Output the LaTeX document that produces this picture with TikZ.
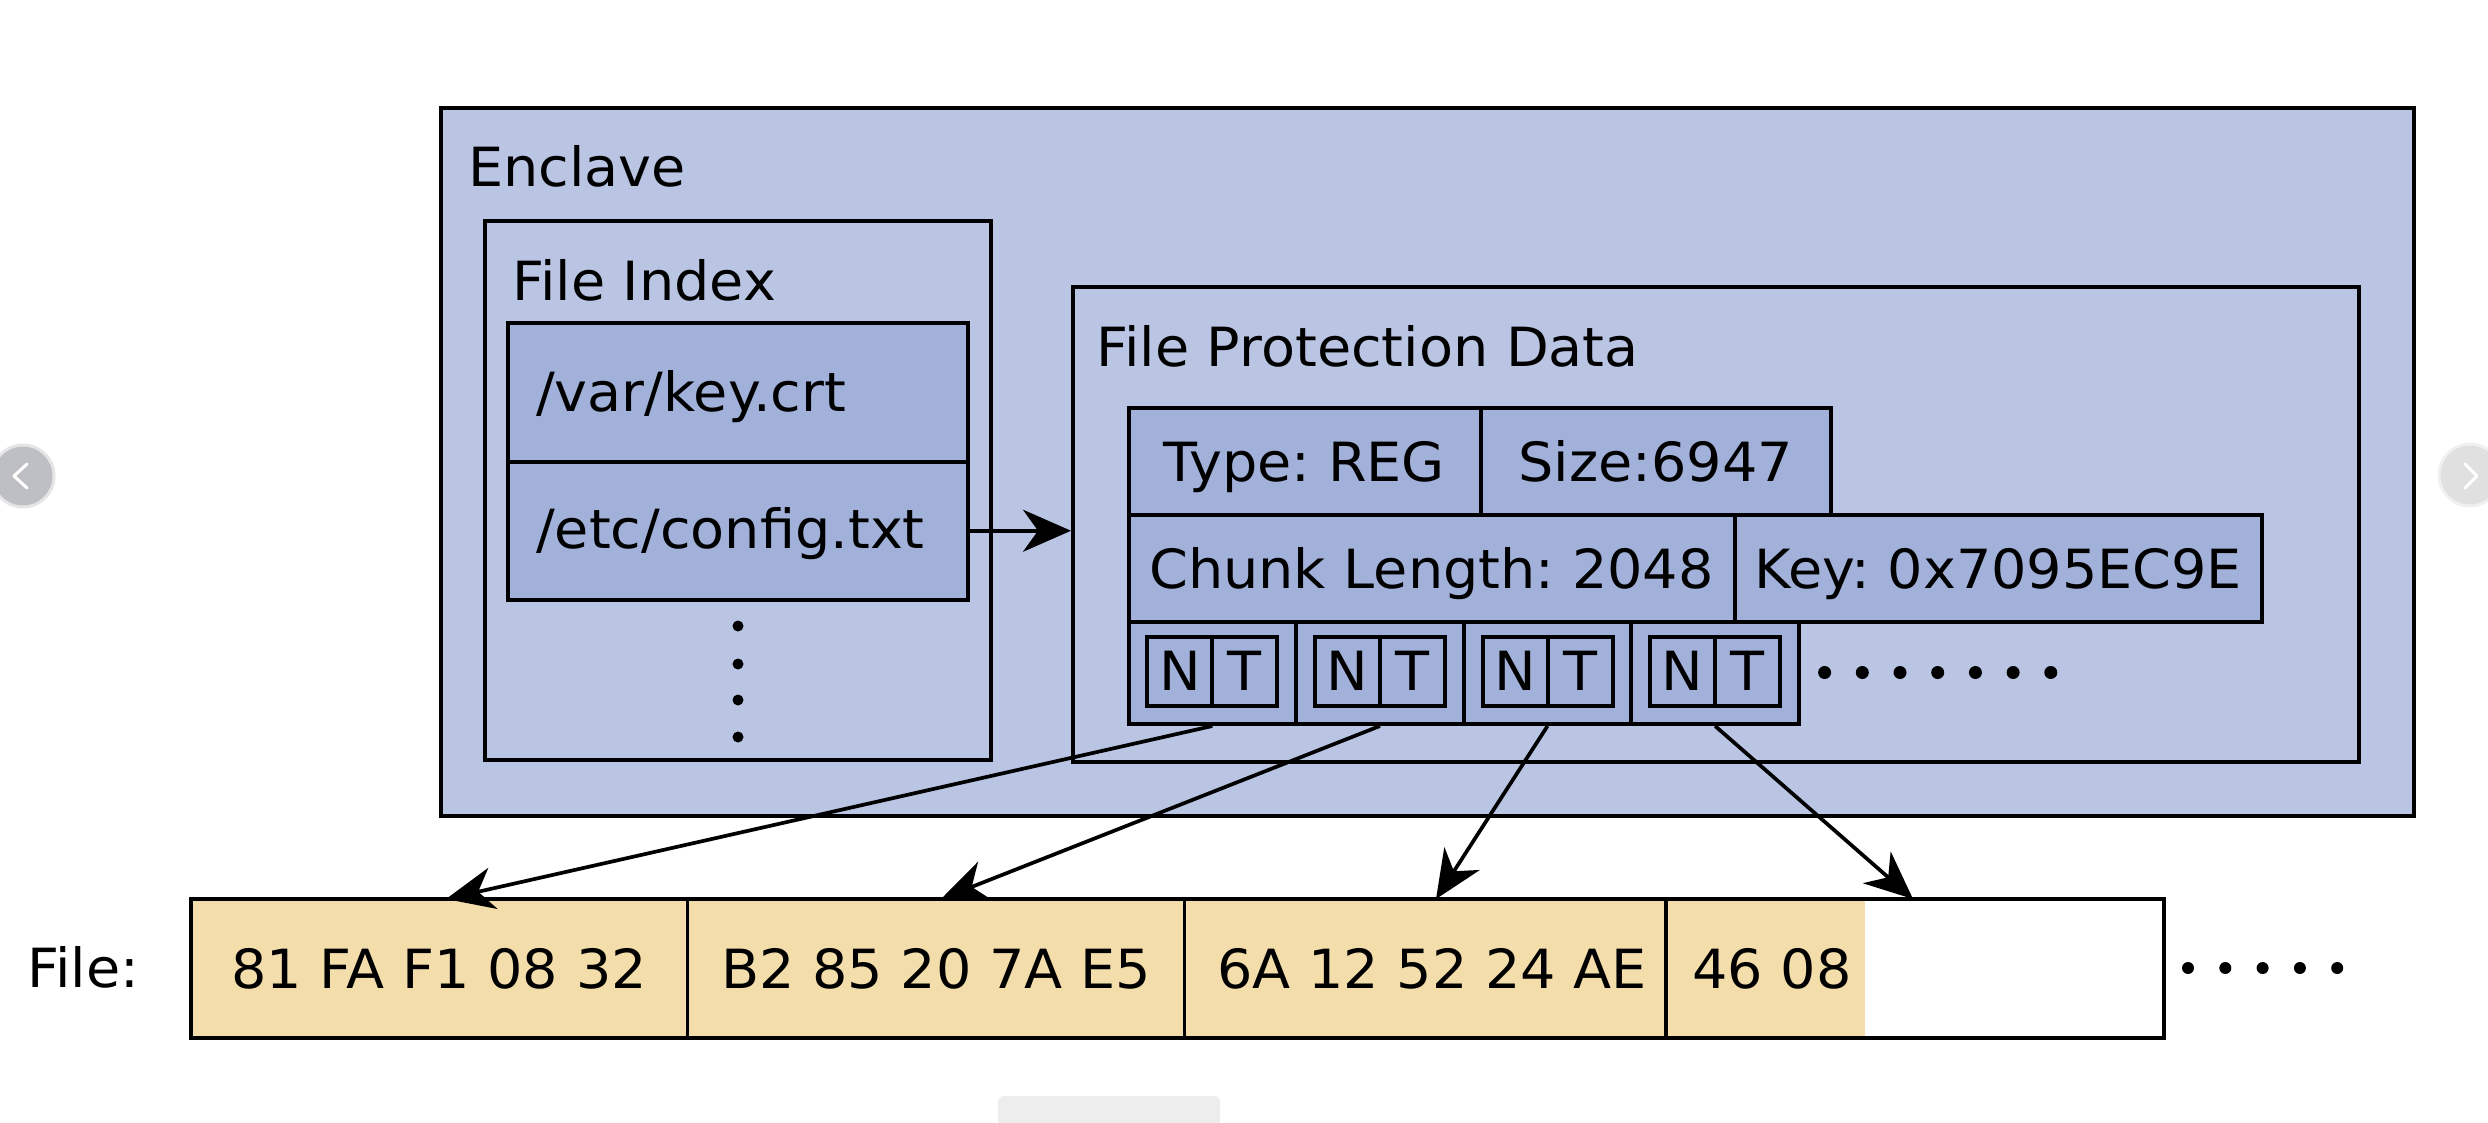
\documentclass[tikz,border=0pt]{standalone}
\usepackage{fontspec}
\setmainfont[FakeStretch=1.03]{DejaVu Sans}
\frenchspacing
\usetikzlibrary{arrows.meta,calc}
\definecolor{enc}{RGB}{185,197,227}
\definecolor{cellc}{RGB}{161,177,217}
\definecolor{beige}{RGB}{243,222,171}
\definecolor{btnl}{RGB}{190,191,196}
\begin{document}
\begin{tikzpicture}[x=1pt,y=-1pt,
  txt/.style={font=\fontsize{54}{64}\selectfont, inner sep=0pt},
  box/.style={draw, line width=4pt, inner sep=0pt},
  cell/.style={draw, fill=cellc, line width=4pt, inner sep=0pt,
    font=\fontsize{54}{64}\selectfont, text height=39pt, text depth=0pt},
  chunk/.style={draw, line width=3.5pt, inner sep=0pt, minimum height=139pt,
    font=\fontsize{54}{64}\selectfont, text height=39pt, text depth=0pt},
  arr/.style={line width=3.7pt, -{Stealth[length=48pt,width=42pt,inset=15pt]}}]
\useasboundingbox (0,0) rectangle (2488,1123);

% screenshot artefacts (carousel buttons, thumbnail)
\node[circle, draw=black!10, line width=3pt, fill=btnl, minimum size=62pt, inner sep=0pt] (btnleft) at (23,476) {};
\draw[white, line width=3pt, line cap=round, line join=round] (27,464) -- (14,476) -- (27,488);
\node[circle, draw=black!6, line width=3pt, fill=black!12, minimum size=62pt, inner sep=0pt] (btnright) at (2470,475) {};
\draw[white, line width=3pt, line cap=round, line join=round] (2465,464) -- (2477,476) -- (2465,488);
\fill[black!7, rounded corners=6pt] (998,1096) rectangle (1220,1135);

% Enclave
\node[box, fill=enc, minimum width=1973pt, minimum height=708pt] (enclave) at (1427.5,462) {};
\node[txt, anchor=base west] (enclavelbl) at (468,187) {Enclave};

% File Index
\node[box, minimum width=506pt, minimum height=539pt] (findex) at (738,490.5) {};
\node[txt, anchor=base west] (findexlbl) at (512,300) {File Index};
\node[cell, minimum width=460.5pt, minimum height=138.5pt] (row1) at (737.75,392.25) {};
\node[cell, minimum width=460.5pt, minimum height=138.5pt] (row2) at (737.75,530.75) {};
\node[txt, anchor=base west] (row1lbl) at (536,411) {/var/key.crt};
\node[txt, anchor=base west] (row2lbl) at (536,548) {/etc/config.txt};
\foreach \y in {626,664,700,737} \fill (738,\y) circle (5.5pt);

% File Protection Data
\node[box, minimum width=1286pt, minimum height=475pt] (fpd) at (1716,524.5) {};
\node[txt, anchor=base west] (fpdlbl) at (1096,366) {File Protection Data};

\node[cell, minimum width=352pt, minimum height=107pt] (type) at (1304.5,461.5) {Type: REG};
\node[cell, minimum width=350.5pt, minimum height=107pt] (size) at (1655.75,461.5) {Size:6947};
\node[cell, minimum width=606pt, minimum height=107pt] (chunklen) at (1431.5,568.5) {Chunk Length: 2048};
\node[cell, minimum width=527.5pt, minimum height=107pt] (key) at (1998.25,568.5) {Key: 0x7095EC9E};

\foreach \i/\x in {1/1212.3,2/1379.9,3/1547.5,4/1715.1}{
  \node[cell, minimum width=167.6pt, minimum height=102pt] (c\i) at (\x,673) {};
  \node[cell, minimum width=65pt, minimum height=69pt] (n\i) at ($(\x,671)+(-32.5,0)$) {N};
  \node[cell, minimum width=65pt, minimum height=69pt] (t\i) at ($(\x,671)+(32.5,0)$) {T};
}
\foreach \k in {0,...,6} \fill (1824.6+37.7*\k,672.5) circle (6.5pt);

\draw[arr] (row2.east) -- (row2.east -| fpd.west);

% File
\node[txt, anchor=base west] (filelbl) at (27,987) {File:};
\fill[beige] (191,899) rectangle (1864.5,1038);
\node[chunk, minimum width=496.5pt] (k1) at (439.25,968.5) {81 FA F1 08 32};
\node[chunk, minimum width=497.1pt] (k2) at (936.05,968.5) {B2 85 20 7A E5};
\node[chunk, minimum width=481.4pt] (k3) at (1425.3,968.5) {};
\node[txt, text height=39pt, text depth=0pt] (k3txt) at (1432,968.5) {6A 12 52 24 AE};
\node[chunk, minimum width=498pt] (k4) at (1915,968.5) {};
\node[txt, text height=39pt, text depth=0pt] (k4txt) at (1772,968.5) {46 08};
\foreach \k in {0,...,4} \fill (2188+37.3*\k,968) circle (6pt);

\coordinate (a1) at (446,899);
\coordinate (a2) at (941,899);
\coordinate (a3) at (1436,899);
\coordinate (a4) at (1913,899);
\draw[arr] (c1.south) -- (a1);
\draw[arr] (c2.south) -- (a2);
\draw[arr] (c3.south) -- (a3);
\draw[arr] (c4.south) -- (a4);
\end{tikzpicture}
\end{document}
